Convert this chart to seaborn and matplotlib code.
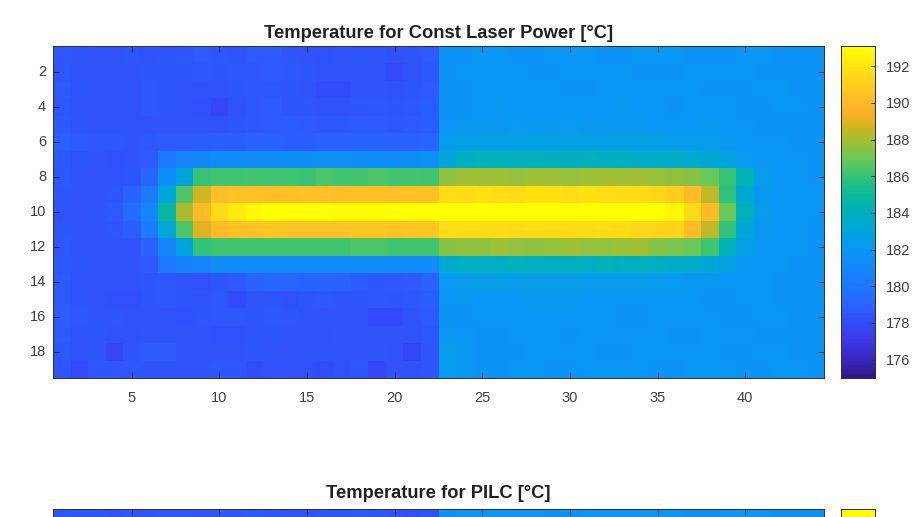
import matplotlib
matplotlib.use("Agg")
import numpy as np
import matplotlib.pyplot as plt
import seaborn as sns
from matplotlib.colors import LinearSegmentedColormap

# values, one list per row, split at the step in the middle
left_rows = [
    [178.5, 178.4, 178.3, 178.3, 178.4, 178.3, 178.4, 178.5, 178.6, 178.5, 178.4, 178.6, 178.6, 178.4, 178.3, 178.2, 178.3, 178.4, 178.4, 178.3, 178.4, 178.6],
    [178.5, 178.3, 178.3, 178.3, 178.3, 178.4, 178.4, 178.4, 178.5, 178.4, 178.5, 178.5, 178.6, 178.5, 178.4, 178.3, 178.3, 178.4, 178.3, 178.0, 178.3, 178.5],
    [178.6, 178.4, 178.3, 178.3, 178.3, 178.5, 178.4, 178.3, 178.3, 178.3, 178.4, 178.5, 178.5, 178.4, 178.3, 178.1, 178.1, 178.3, 178.4, 178.3, 178.4, 178.6],
    [178.5, 178.3, 178.3, 178.3, 178.3, 178.5, 178.4, 178.3, 178.2, 177.7, 178.3, 178.5, 178.6, 178.4, 178.4, 178.3, 178.3, 178.4, 178.5, 178.4, 178.5, 178.7],
    [178.6, 178.4, 178.3, 178.3, 178.3, 178.3, 178.3, 178.3, 178.3, 178.3, 178.4, 178.5, 178.6, 178.7, 178.6, 178.5, 178.5, 178.6, 178.6, 178.5, 178.6, 178.7],
    [178.8, 178.6, 178.5, 178.5, 178.4, 178.5, 178.6, 178.6, 178.7, 178.8, 178.8, 178.9, 179.0, 178.8, 178.8, 178.9, 178.9, 179.0, 179.0, 178.9, 179.0, 179.1],
    [178.6, 178.4, 178.3, 178.2, 178.3, 178.6, 180.0, 180.8, 181.1, 181.4, 181.5, 181.5, 181.4, 181.5, 181.5, 181.6, 181.6, 181.5, 181.5, 181.5, 181.5, 181.6],
    [178.5, 178.3, 178.3, 178.3, 178.4, 179.2, 181.5, 182.9, 186.1, 186.2, 186.2, 186.3, 186.2, 186.2, 186.1, 186.4, 186.3, 186.3, 186.5, 186.3, 186.3, 186.2],
    [178.4, 178.3, 178.3, 178.4, 178.9, 180.1, 183.1, 186.5, 188.7, 190.2, 190.3, 190.3, 190.2, 190.3, 190.4, 190.3, 190.2, 190.3, 190.3, 190.3, 190.4, 190.4],
    [178.3, 178.3, 178.4, 178.6, 179.4, 181.0, 184.7, 188.1, 190.0, 191.5, 192.2, 192.7, 193.0, 193.0, 193.0, 193.0, 192.9, 192.9, 192.9, 193.0, 193.0, 193.0],
    [178.4, 178.3, 178.3, 178.4, 178.8, 180.2, 183.1, 186.4, 188.9, 190.0, 190.4, 190.5, 190.6, 190.5, 190.5, 190.5, 190.5, 190.6, 190.6, 190.5, 190.6, 190.6],
    [178.5, 178.3, 178.3, 178.3, 178.3, 179.0, 180.9, 182.9, 186.0, 186.2, 186.2, 186.2, 186.2, 186.2, 186.2, 186.2, 186.2, 186.4, 186.4, 186.2, 186.2, 186.2],
    [178.5, 178.4, 178.3, 178.3, 178.3, 178.6, 179.9, 180.6, 180.9, 181.3, 181.4, 181.4, 181.4, 181.4, 181.4, 181.4, 181.4, 181.3, 181.4, 181.4, 181.3, 181.4],
    [178.6, 178.3, 178.3, 178.3, 178.3, 178.4, 178.5, 178.3, 178.2, 178.4, 178.6, 179.0, 179.1, 179.1, 179.0, 179.0, 178.9, 178.7, 178.5, 178.5, 178.6, 178.9],
    [178.6, 178.4, 178.3, 178.2, 178.2, 178.4, 178.5, 178.4, 178.4, 178.5, 178.1, 178.4, 178.4, 178.2, 178.4, 178.5, 178.4, 178.4, 178.5, 178.4, 178.5, 178.7],
    [178.6, 178.5, 178.4, 178.4, 178.3, 178.3, 178.3, 178.2, 178.4, 178.5, 178.5, 178.4, 178.5, 178.4, 178.3, 178.3, 178.3, 178.3, 178.0, 178.0, 178.3, 178.6],
    [178.6, 178.4, 178.4, 178.3, 178.3, 178.4, 178.4, 178.3, 178.3, 178.2, 178.2, 178.4, 178.4, 178.3, 178.3, 178.3, 178.4, 178.4, 178.3, 178.3, 178.3, 178.5],
    [178.5, 178.3, 178.4, 177.7, 178.4, 178.6, 178.6, 178.3, 178.3, 178.3, 178.3, 178.4, 178.3, 178.3, 178.3, 178.3, 178.3, 178.3, 178.4, 178.3, 177.8, 178.4],
    [178.4, 178.0, 178.5, 178.5, 178.5, 178.4, 178.4, 178.4, 178.4, 178.5, 178.5, 178.1, 178.2, 178.2, 178.2, 178.1, 178.3, 178.5, 177.7, 178.3, 178.3, 178.4],
]
right_rows = [
    [181.9, 181.9, 182.0, 182.0, 181.9, 181.9, 182.0, 182.0, 182.0, 181.9, 181.9, 182.0, 182.0, 182.0, 181.9, 181.9, 181.9, 182.0, 182.0, 181.9, 181.9, 181.8],
    [181.9, 182.0, 182.0, 182.0, 182.0, 181.9, 181.9, 182.0, 182.0, 182.0, 182.0, 181.9, 181.9, 181.9, 182.0, 182.0, 182.0, 182.0, 181.9, 181.9, 181.9, 181.8],
    [181.8, 181.9, 182.0, 182.0, 182.0, 182.0, 182.0, 181.9, 181.9, 182.0, 182.0, 182.0, 182.0, 182.0, 182.0, 181.9, 181.9, 181.9, 182.0, 182.0, 181.9, 181.9],
    [181.9, 181.9, 182.0, 182.1, 182.0, 182.0, 182.0, 182.0, 182.0, 182.0, 182.1, 182.0, 182.0, 181.9, 182.0, 182.0, 182.0, 181.9, 181.9, 182.0, 182.0, 181.9],
    [182.0, 182.1, 182.1, 182.1, 182.2, 182.1, 182.1, 182.2, 182.1, 182.1, 182.1, 182.1, 182.0, 182.0, 182.0, 182.1, 182.0, 182.0, 181.9, 181.9, 181.9, 181.9],
    [182.3, 182.5, 182.6, 182.6, 182.6, 182.7, 182.6, 182.6, 182.6, 182.5, 182.6, 182.6, 182.5, 182.4, 182.4, 182.3, 182.1, 182.0, 182.0, 182.0, 181.9, 181.9],
    [183.1, 184.0, 184.1, 184.1, 184.1, 184.1, 184.0, 184.0, 184.1, 184.0, 184.0, 183.7, 183.7, 183.7, 183.5, 183.0, 182.8, 182.2, 182.0, 182.0, 182.0, 181.9],
    [187.6, 187.8, 187.8, 187.8, 187.7, 187.8, 187.8, 187.7, 187.8, 187.9, 187.8, 187.9, 187.7, 187.6, 187.5, 186.9, 186.1, 184.2, 182.4, 182.0, 182.0, 181.9],
    [191.6, 191.5, 191.7, 191.6, 191.5, 191.7, 191.7, 191.6, 191.7, 191.6, 191.5, 191.5, 191.3, 191.0, 190.1, 188.4, 185.9, 183.2, 182.1, 182.0, 182.0, 182.0],
    [193.0, 193.0, 193.0, 193.0, 193.0, 193.0, 193.0, 193.0, 193.0, 193.0, 193.0, 193.0, 193.0, 192.7, 191.5, 190.1, 186.9, 184.1, 182.3, 182.0, 182.0, 182.0],
    [191.6, 191.6, 191.6, 191.6, 191.5, 191.6, 191.6, 191.5, 191.5, 191.6, 191.5, 191.4, 191.3, 191.3, 190.1, 188.4, 185.9, 183.1, 182.1, 182.0, 182.0, 181.9],
    [187.5, 187.6, 187.6, 187.8, 187.7, 187.6, 187.7, 187.8, 187.7, 187.7, 187.8, 187.9, 187.4, 187.2, 186.9, 186.2, 184.2, 182.5, 182.0, 182.0, 182.0, 181.9],
    [183.4, 183.9, 183.9, 183.9, 184.1, 184.0, 184.0, 184.0, 183.9, 184.1, 184.0, 184.0, 183.9, 183.7, 183.6, 183.1, 182.7, 182.1, 182.0, 182.0, 181.9, 181.9],
    [182.2, 182.4, 182.5, 182.5, 182.4, 182.5, 182.5, 182.5, 182.4, 182.4, 182.4, 182.4, 182.3, 182.2, 182.1, 182.1, 182.0, 182.0, 182.0, 181.9, 181.9, 181.9],
    [182.0, 182.1, 182.0, 182.0, 182.0, 182.1, 182.1, 182.1, 182.0, 182.0, 182.0, 182.0, 182.0, 182.0, 182.0, 181.9, 181.9, 182.0, 182.0, 181.9, 181.9, 181.9],
    [181.9, 181.9, 182.0, 182.0, 182.0, 182.0, 182.0, 182.0, 182.0, 182.0, 181.9, 181.9, 182.0, 182.0, 182.0, 182.0, 181.9, 181.9, 182.0, 182.0, 181.9, 181.9],
    [182.1, 182.0, 181.9, 181.9, 182.0, 182.0, 182.0, 181.9, 182.0, 182.0, 182.0, 182.0, 182.0, 181.9, 181.9, 182.0, 182.0, 182.0, 181.9, 181.9, 181.9, 181.9],
    [182.3, 182.1, 181.9, 181.9, 181.9, 182.0, 182.0, 182.0, 182.0, 181.9, 181.9, 182.0, 182.0, 182.0, 182.0, 182.0, 181.9, 181.9, 182.0, 182.0, 181.9, 181.9],
    [182.2, 182.0, 181.9, 181.9, 182.0, 182.0, 181.9, 181.9, 182.0, 182.0, 182.0, 182.0, 181.9, 181.9, 182.0, 182.0, 182.0, 181.9, 181.9, 182.0, 182.0, 181.9],
]
# only the top edge of the second map fits on the canvas
pilc_left_top = [178.5, 178.4, 178.4, 178.3, 178.4, 178.4, 178.5, 178.5, 178.4, 178.4, 178.4, 178.5, 178.4, 178.3, 178.3, 178.4, 178.4, 178.5, 178.4, 178.3, 178.2, 178.3]
pilc_right_top = [181.9, 182.0, 182.0, 182.0, 182.0, 182.0, 181.9, 181.9, 182.0, 182.0, 182.0, 182.0, 182.0, 182.0, 181.9, 181.9, 182.0, 182.0, 182.0, 181.9, 181.9, 181.9]

x_ticks = [5, 10, 15, 20, 25, 30, 35, 40]
y_ticks = [2, 4, 6, 8, 10, 12, 14, 16, 18]
cbar_ticks = [176, 178, 180, 182, 184, 186, 188, 190, 192]
title_const = "Temperature for Const Laser Power [°C]"
title_pilc = "Temperature for PILC [°C]"

T_MIN, T_MAX = 175.0, 193.1
# parula-like map, stops picked from the colorbar
cmap_stops = [
    (175.0, "#30168a"), (176.0, "#3a28be"), (177.0, "#3e37eb"), (178.0, "#324bfa"),
    (179.0, "#2864ff"), (180.0, "#1e78ff"), (181.0, "#1487fa"), (182.0, "#0a96f5"),
    (183.0, "#00a5d7"), (184.0, "#00afbe"), (185.0, "#0ab996"), (186.0, "#32c378"),
    (187.0, "#6ec855"), (188.0, "#a5be32"), (188.8, "#d7b41e"), (189.5, "#faaf28"),
    (190.0, "#ffb928"), (191.0, "#ffcd1e"), (192.0, "#ffe60f"), (193.1, "#ffff00"),
]
parula = LinearSegmentedColormap.from_list(
    "parula_like", [((v - T_MIN) / (T_MAX - T_MIN), c) for v, c in cmap_stops]
)

W, H = 918, 517
TEXT = "#404040"
EDGE = "#303030"


def px_axes(fig, left, top, right, bottom):
    return fig.add_axes([left / W, 1 - bottom / H, (right - left) / W, (bottom - top) / H])


def style_colorbar(cax):
    cax.set_axisbelow(False)
    cax.tick_params(direction="in", length=3, width=0.7, color=EDGE, labelcolor=TEXT,
                    labelsize=10.5, pad=8, right=True, left=False)
    for s in cax.spines.values():
        s.set_visible(True)
        s.set_color(EDGE)
        s.set_linewidth(0.7)


def style_axes(ax):
    ax.set_axisbelow(False)
    for s in ax.spines.values():
        s.set_visible(True)
        s.set_color(EDGE)
        s.set_linewidth(0.7)


sns.set_theme(style="white")
plt.rcParams["font.family"] = ["Liberation Sans", "DejaVu Sans"]

fig = plt.figure(figsize=(W / 100, H / 100), dpi=100)

# top map
const_power = np.hstack([np.array(left_rows), np.array(right_rows)])
ax1 = px_axes(fig, 53, 46, 824, 378)
cax1 = px_axes(fig, 841, 46, 875, 378)
sns.heatmap(const_power, ax=ax1, cbar_ax=cax1, cmap=parula, vmin=T_MIN, vmax=T_MAX,
            cbar_kws={"ticks": cbar_ticks})
ax1.set_xticks([t - 0.5 for t in x_ticks], labels=x_ticks, rotation=0)
ax1.set_yticks([t - 0.5 for t in y_ticks], labels=y_ticks, rotation=0)
ax1.tick_params(direction="in", length=4, width=0.7, color=EDGE, labelcolor=TEXT,
                labelsize=10.5, top=True, right=True, bottom=True, left=True, pad=5)
ax1.tick_params(axis="x", pad=9)
ax1.set_title(title_const, fontsize=13.2, fontweight="bold", color="#202020", pad=6)
style_axes(ax1)
style_colorbar(cax1)

# bottom map, runs off the canvas
pilc_top = np.array([pilc_left_top + pilc_right_top])
ax2 = px_axes(fig, 53, 509, 824, 526.5)
cax2 = px_axes(fig, 841, 509, 875, 841)
sns.heatmap(pilc_top, ax=ax2, cbar_ax=cax2, cmap=parula, vmin=T_MIN, vmax=T_MAX,
            cbar_kws={"ticks": []})
ax2.set_xticks([t - 0.5 for t in x_ticks], labels=[])
ax2.set_yticks([])
ax2.tick_params(direction="in", length=4, width=0.7, color=EDGE, top=True, bottom=False)
ax2.set_title(title_pilc, fontsize=13.2, fontweight="bold", color="#202020", pad=8)
style_axes(ax2)
style_colorbar(cax2)

fig.savefig("out.png", dpi=100)
